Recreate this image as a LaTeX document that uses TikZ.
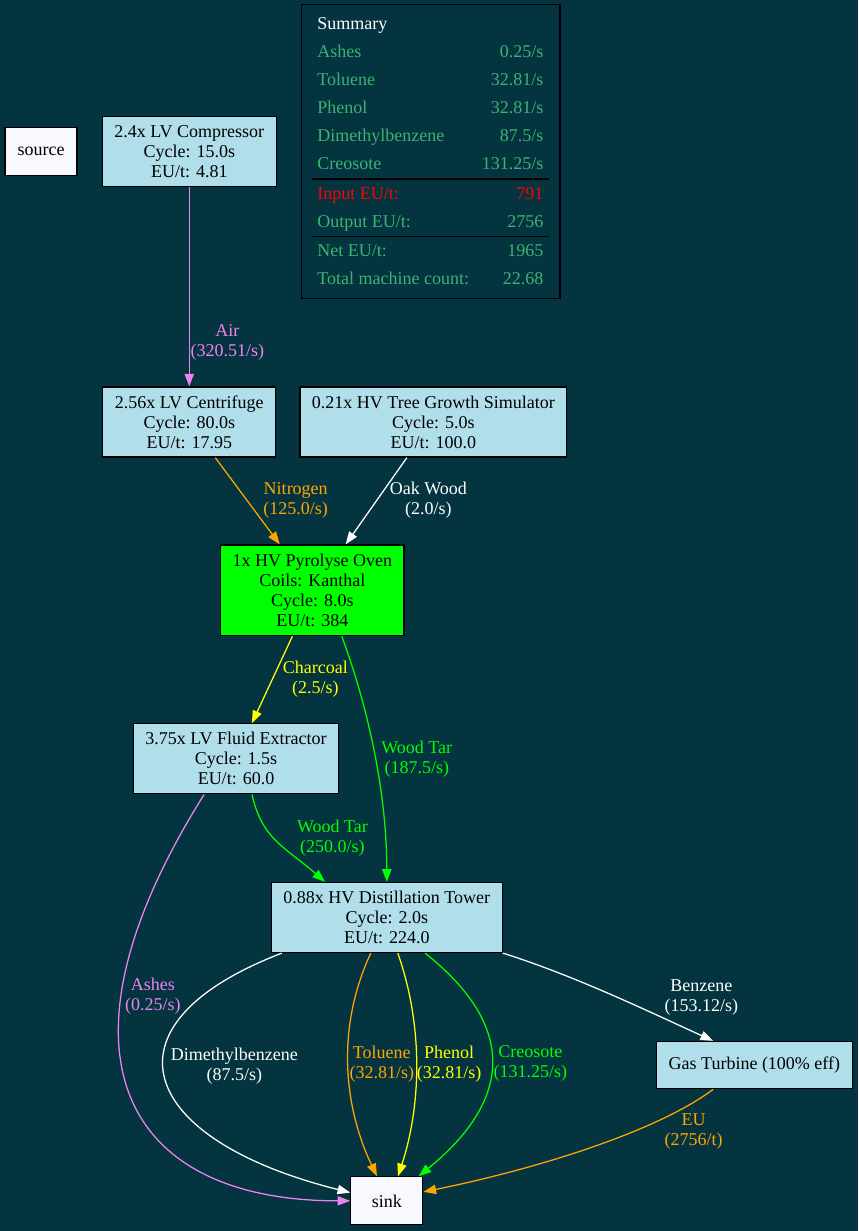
\documentclass[tikz,border=0pt]{standalone}
\usepackage{fontspec}
\setmainfont{Liberation Serif}
\usepackage{array}
\usetikzlibrary{positioning,arrows.meta}
\definecolor{bg}{HTML}{04343F}
\definecolor{machine}{HTML}{B0DEEB}
\definecolor{ghost}{HTML}{F8F8FF}
\definecolor{sumgreen}{HTML}{3CB371}
\definecolor{vio}{HTML}{EE82EE}
\definecolor{orng}{HTML}{FFA500}
\definecolor{ylw}{HTML}{FFFF00}
\definecolor{grn}{HTML}{00FF00}

\begin{document}
\begin{tikzpicture}[x=0.75pt,y=-0.75pt,on grid,
        font=\fontsize{13.5}{15}\selectfont,
        box/.style={draw=black,line width=0.9pt,fill=machine,align=center,
            inner xsep=9pt,inner ysep=2pt,minimum height=52.5pt},
        term/.style={box,fill=ghost,minimum width=54pt,minimum height=36pt},
        flow/.style={line width=0.95pt,-{Triangle[length=9.5pt,width=7pt]}},
        lbl/.style={align=center,inner sep=0pt}]
    \fill[bg] (0,0) rectangle (858,1231);

    \node[term] (source) at (41,151.5) {source};
    \node[box] (comp) [right=111.2pt of source] {2.4x LV Compressor\\Cycle: 15.0s\\EU/t: 4.81};
    \node[draw=black,line width=0.9pt,text=black,inner xsep=7.9pt,inner ysep=4.5pt]
        (summary) [right=181.2pt of comp] {%
        \fontsize{13.5}{21}\selectfont\setlength\arrayrulewidth{0.9pt}%
        \begin{tabular*}{177.75pt}{@{\hspace{3.75pt}}>{\color{sumgreen}}l@{\extracolsep{\fill}}>{\color{sumgreen}}r@{\extracolsep{0pt}\hspace{4.5pt}}}
            \multicolumn{2}{@{\hspace{3.75pt}}l}{\color{white}Summary}\\
            Ashes & 0.25/s\\
            Toluene & 32.81/s\\
            Phenol & 32.81/s\\
            Dimethylbenzene & 87.5/s\\
            Creosote & 131.25/s\\ \hline
            \color{red}Input EU/t: & \color{red}791\\
            Output EU/t: & 2756\\ \hline
            Net EU/t: & 1965\\
            Total machine count: & 22.68
        \end{tabular*}};
    \node[box] (centr) [below=202.9pt of comp] {2.56x LV Centrifuge\\Cycle: 80.0s\\EU/t: 17.95};
    \node[box] (tree) [right=183.1pt of centr] {0.21x HV Tree Growth Simulator\\Cycle: 5.0s\\EU/t: 100.0};
    \node[box,fill=grn,minimum height=68pt] (oven) [below right=126.2pt and 92.25pt of centr]
        {1x HV Pyrolyse Oven\\Coils: Kanthal\\Cycle: 8.0s\\EU/t: 384};
    \node[box] (extr) [below left=126.4pt and 57.2pt of oven] {3.75x LV Fluid Extractor\\Cycle: 1.5s\\EU/t: 60.0};
    \node[box] (dist) [below right=119pt and 113.1pt of extr] {0.88x HV Distillation Tower\\Cycle: 2.0s\\EU/t: 224.0};
    \node[box,minimum height=35.5pt] (turb) [below right=110.7pt and 275.7pt of dist] {Gas Turbine (100\% eff)};
    \node[term] (sink) [below=212.5pt of dist] {sink};

    \path[flow,white]
        (comp) edge[vio] node[lbl,pos=.78,anchor=west,xshift=.5pt] {Air\\(320.51/s)} (centr)
        ([xshift=19.5pt]centr.south) edge[orng] node[lbl,pos=.49,anchor=west,xshift=12pt] {Nitrogen\\(125.0/s)} ([xshift=-24.4pt]oven.north)
        ([xshift=-19.9pt]tree.south) edge node[lbl,pos=.49,anchor=west,xshift=9.3pt] {Oak Wood\\(2.0/s)} ([xshift=25.1pt]oven.north)
        ([xshift=-14.9pt]oven.south) edge[ylw] node[lbl,pos=.49,anchor=west,xshift=7.2pt] {Charcoal\\(2.5/s)} ([xshift=11.9pt]extr.north);

    \draw[flow,grn] ([xshift=22.1pt]oven.south) .. controls +(26,70) and +(0,-90) .. (dist.north)
        node[lbl,pos=.53,anchor=west,xshift=4pt] {Wood Tar\\(187.5/s)};
    \draw[flow,grn] ([xshift=12pt]extr.south) .. controls +(10,45) and +(-40,-35) .. ([xshift=-46.3pt]dist.north)
        node[lbl,pos=.45,anchor=west,xshift=17pt] {Wood Tar\\(250.0/s)};
    \draw[flow,vio] ([xshift=-23.9pt]extr.south) .. controls +(-162,258) and +(-228,0) .. (sink.west)
        node[lbl,pos=.3,anchor=west,xshift=2.5pt] {Ashes\\(0.25/s)};
    % distillation outputs
    \draw[flow,white] ([xshift=-78.75pt]dist.south) .. controls +(-187,72) and +(-212,-53) .. ([yshift=6.2pt]sink.west)
        node[lbl,pos=.45,anchor=west,xshift=5pt] {Dimethylbenzene\\(87.5/s)};
    \draw[flow,orng] ([xshift=-12pt]dist.south) .. controls +(-36,77) and +(-32,-67) .. ([xshift=-7.4pt]sink.north)
        node[lbl,pos=.48,anchor=west,xshift=.6pt] {Toluene\\(32.81/s)};
    \draw[flow,ylw] ([xshift=8.25pt]dist.south) .. controls +(27,77) and +(22,-67) .. ([xshift=8.4pt]sink.north)
        node[lbl,pos=.48,anchor=west] {Phenol\\(32.81/s)};
    \draw[flow,grn] ([xshift=28.7pt]dist.south) .. controls +(103,82) and +(82,-67) .. ([xshift=23.9pt]sink.north)
        node[lbl,pos=.47,anchor=west,xshift=1pt] {Creosote\\(131.25/s)};
    \draw[flow,white] (dist.south east) .. controls +(70,22) and +(-70,-32) .. ([xshift=-31pt]turb.north)
        node[lbl,pos=.5,xshift=70pt,yshift=-3pt] {Benzene\\(153.12/s)};
    \draw[flow,orng] ([xshift=-31pt]turb.south) .. controls +(-60,45) and +(100,-20) .. ([yshift=6.75pt]sink.east)
        node[lbl,pos=.25,xshift=27.75pt,yshift=-7.1pt] {EU\\(2756/t)};
\end{tikzpicture}
\end{document}
